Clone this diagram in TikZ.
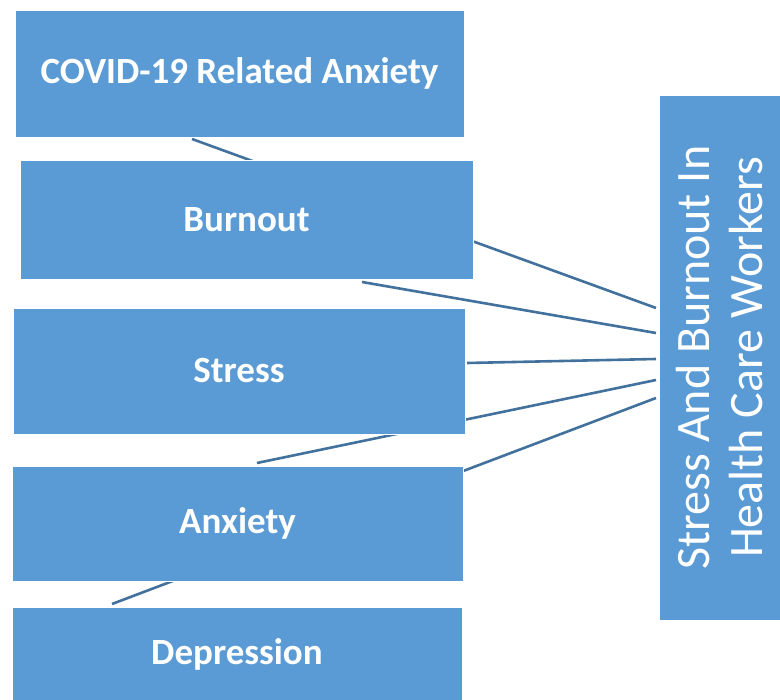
\documentclass[tikz,border=0pt]{standalone}
\usepackage{fontspec}
\setmainfont{Carlito}
\definecolor{boxblue}{HTML}{5B9BD5}
\definecolor{linkblue}{HTML}{41719C}
\begin{document}
\begin{tikzpicture}[x=1pt,y=-1pt,
  box/.style={fill=boxblue,draw=white,line width=0.8pt},
  lbl/.style={text=white,font=\fontsize{37}{44}\selectfont\bfseries},
  link/.style={draw=linkblue,line width=2.6pt}]
\useasboundingbox (0,0) rectangle (780,700);
% connector end points
\coordinate (ra) at (656,308);
\coordinate (rb) at (656,333);
\coordinate (rc) at (656,359);
\coordinate (rd) at (656,380);
\coordinate (re) at (656,398);
\coordinate (ta) at (192,139);
\coordinate (tb) at (362,282);
\coordinate (tc) at (467,363);
\coordinate (td) at (257,463);
\coordinate (te) at (112,604);
\draw[link] (ra) -- (ta);
\draw[link] (rb) -- (tb);
\draw[link] (rc) -- (tc);
\draw[link] (rd) -- (td);
\draw[link] (re) -- (te);
% boxes
\draw[box] (15,10) rectangle (464,137);
\node[lbl] (covid) at (239.5,73.5) {COVID-19 Related Anxiety};
\draw[box] (20,160) rectangle (473,279);
\node[lbl] (burnout) at (246.5,219.5) {Burnout};
\draw[box] (13,308) rectangle (465,434);
\node[lbl] (stress) at (239,371) {Stress};
\draw[box] (12,466) rectangle (463,581);
\node[lbl] (anxiety) at (237.5,523.5) {Anxiety};
\draw[box] (12,607) rectangle (462,702);
\node[lbl] (depression) at (237,654) {Depression};
\draw[box] (659,95) rectangle (782,620);
\node[text=white,rotate=90,align=center,font=\fontsize{48}{53}\selectfont] (main) at (719.5,357.5) {Stress And Burnout In\\Health Care Workers};
\end{tikzpicture}
\end{document}
